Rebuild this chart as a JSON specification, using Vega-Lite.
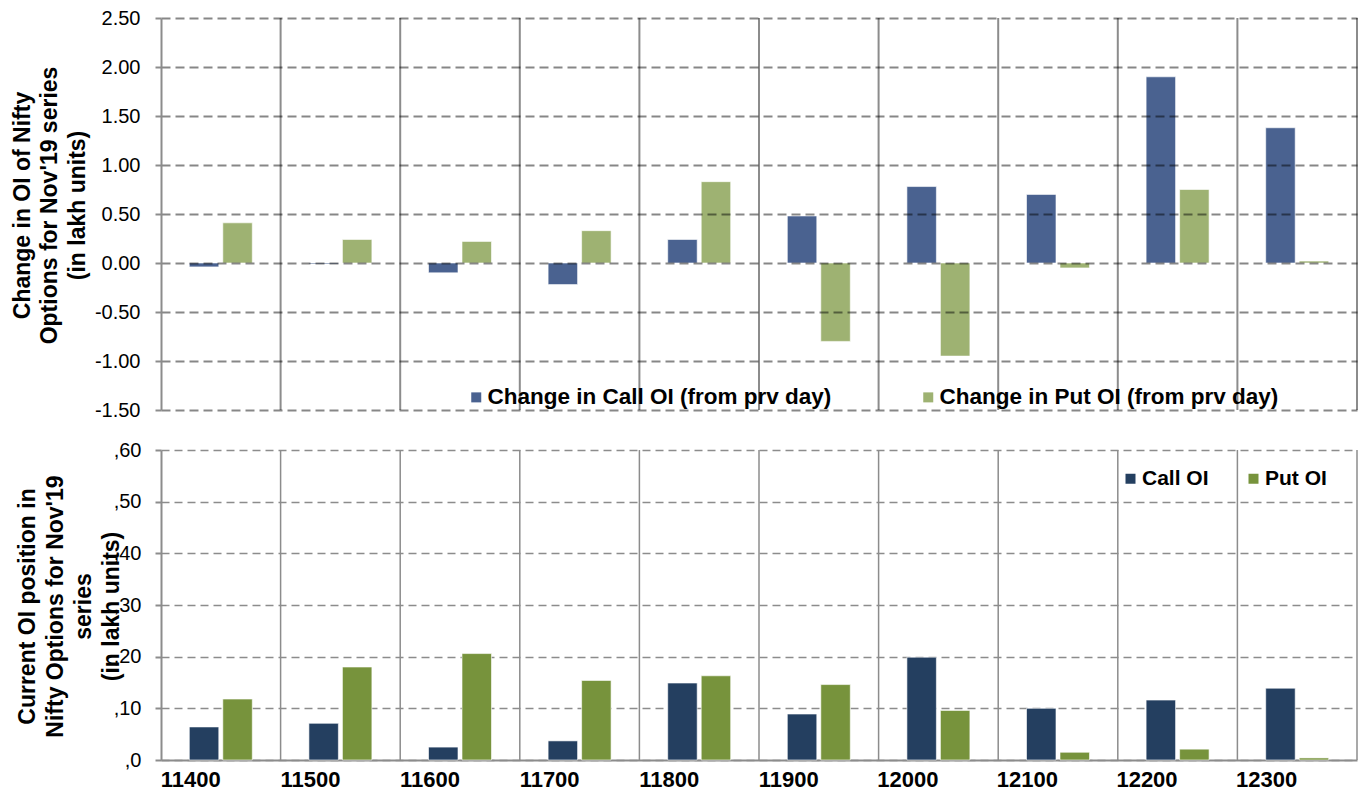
{
  "$schema": "https://vega.github.io/schema/vega-lite/v6.json",
  "background": "white",
  "padding": {"left": 10, "top": 8, "right": 0, "bottom": 0},
  "config": {"font": "Liberation Sans", "view": {"stroke": null}},
  "datasets": {
    "change": [
      {"strike": "11400", "series": "Change in Call OI (from prv day)", "value": -0.04},
      {"strike": "11400", "series": "Change in Put OI (from prv day)", "value": 0.41},
      {"strike": "11500", "series": "Change in Call OI (from prv day)", "value": -0.01},
      {"strike": "11500", "series": "Change in Put OI (from prv day)", "value": 0.24},
      {"strike": "11600", "series": "Change in Call OI (from prv day)", "value": -0.10},
      {"strike": "11600", "series": "Change in Put OI (from prv day)", "value": 0.22},
      {"strike": "11700", "series": "Change in Call OI (from prv day)", "value": -0.22},
      {"strike": "11700", "series": "Change in Put OI (from prv day)", "value": 0.33},
      {"strike": "11800", "series": "Change in Call OI (from prv day)", "value": 0.24},
      {"strike": "11800", "series": "Change in Put OI (from prv day)", "value": 0.83},
      {"strike": "11900", "series": "Change in Call OI (from prv day)", "value": 0.48},
      {"strike": "11900", "series": "Change in Put OI (from prv day)", "value": -0.80},
      {"strike": "12000", "series": "Change in Call OI (from prv day)", "value": 0.78},
      {"strike": "12000", "series": "Change in Put OI (from prv day)", "value": -0.95},
      {"strike": "12100", "series": "Change in Call OI (from prv day)", "value": 0.70},
      {"strike": "12100", "series": "Change in Put OI (from prv day)", "value": -0.05},
      {"strike": "12200", "series": "Change in Call OI (from prv day)", "value": 1.90},
      {"strike": "12200", "series": "Change in Put OI (from prv day)", "value": 0.75},
      {"strike": "12300", "series": "Change in Call OI (from prv day)", "value": 1.38},
      {"strike": "12300", "series": "Change in Put OI (from prv day)", "value": 0.02}
    ],
    "current": [
      {"strike": "11400", "series": "Call OI", "value": 6.4},
      {"strike": "11400", "series": "Put OI", "value": 11.8},
      {"strike": "11500", "series": "Call OI", "value": 7.1},
      {"strike": "11500", "series": "Put OI", "value": 18.0},
      {"strike": "11600", "series": "Call OI", "value": 2.5},
      {"strike": "11600", "series": "Put OI", "value": 20.6},
      {"strike": "11700", "series": "Call OI", "value": 3.7},
      {"strike": "11700", "series": "Put OI", "value": 15.4},
      {"strike": "11800", "series": "Call OI", "value": 14.9},
      {"strike": "11800", "series": "Put OI", "value": 16.3},
      {"strike": "11900", "series": "Call OI", "value": 8.9},
      {"strike": "11900", "series": "Put OI", "value": 14.6},
      {"strike": "12000", "series": "Call OI", "value": 19.9},
      {"strike": "12000", "series": "Put OI", "value": 9.6},
      {"strike": "12100", "series": "Call OI", "value": 10.0},
      {"strike": "12100", "series": "Put OI", "value": 1.5},
      {"strike": "12200", "series": "Call OI", "value": 11.6},
      {"strike": "12200", "series": "Put OI", "value": 2.1},
      {"strike": "12300", "series": "Call OI", "value": 13.9},
      {"strike": "12300", "series": "Put OI", "value": 0.4}
    ]
  },
  "columns": 1,
  "align": "none",
  "spacing": 20,
  "resolve": {"scale": {"color": "independent", "x": "independent", "xOffset": "independent", "y": "independent"}},
  "concat": [
    {
      "width": 1196,
      "height": 392,
      "data": {"name": "change"},
      "layer": [
        {
          "transform": [{"filter": "datum.series === 'Change in Call OI (from prv day)'"}],
          "mark": {"type": "rule", "color": "#8c8c8c", "strokeWidth": 2},
          "encoding": {
            "x": {"field": "strike", "type": "nominal", "bandPosition": 1, "axis": null, "scale": {"paddingInner": 0, "paddingOuter": 0}}
          }
        },
        {
          "mark": {"type": "bar", "stroke": "#ffffff", "strokeWidth": 1, "strokeOpacity": 0.6},
          "encoding": {
            "x": {"field": "strike", "type": "nominal", "axis": null, "scale": {"paddingInner": 0, "paddingOuter": 0}},
            "xOffset": {"field": "series", "type": "nominal", "sort": null, "scale": {"paddingInner": 0.12, "paddingOuter": 0.845}},
            "y": {
              "field": "value", "type": "quantitative",
              "scale": {"domain": [-1.5, 2.5], "nice": false, "zero": false},
              "axis": {
                "values": [-1.5, -1, -0.5, 0, 0.5, 1, 1.5, 2, 2.5],
                "labelExpr": "(datum.value < 0 ? '-' : '') + format(abs(datum.value), '.2f')",
                "title": ["Change in OI of Nifty", "Options for Nov'19 series", "(in lakh units)"],
                "titleFontSize": 23, "titleFontWeight": "bold", "titleColor": "#000000",
                "titleLineHeight": 27.5, "titleX": -127, "titleY": 187, "titleAngle": -90,
                "labelFontSize": 20, "labelColor": "#000000", "labelPadding": 15,
                "tickSize": 6, "tickColor": "#8c8c8c", "tickWidth": 2,
                "domainColor": "#8c8c8c", "domainWidth": 2,
                "grid": true, "gridColor": "#000000", "gridOpacity": 0.47, "gridDash": [9, 5], "gridWidth": 2,
                "zindex": 1
              }
            },
            "color": {
              "field": "series", "type": "nominal", "sort": null,
              "scale": {"domain": ["Change in Call OI (from prv day)", "Change in Put OI (from prv day)"], "range": ["#4a6290", "#9eb272"]},
              "legend": {
                "orient": "none", "legendX": 304, "legendY": 368, "direction": "horizontal", "title": null,
                "symbolType": "square", "symbolSize": 100, "symbolStrokeWidth": 0,
                "labelFontSize": 22.5, "labelFontWeight": "bold", "labelColor": "#000000",
                "labelOffset": 0, "columnPadding": 85, "labelLimit": 500, "padding": 0
              }
            }
          }
        }
      ]
    },
    {
      "width": 1196,
      "height": 310,
      "data": {"name": "current"},
      "layer": [
        {
          "transform": [{"filter": "datum.series === 'Call OI'"}],
          "mark": {"type": "rule", "color": "#8c8c8c", "strokeWidth": 1.5},
          "encoding": {
            "x": {"field": "strike", "type": "nominal", "bandPosition": 1, "scale": {"paddingInner": 0, "paddingOuter": 0}}
          }
        },
        {
          "mark": {"type": "bar", "stroke": "#ffffff", "strokeWidth": 1, "strokeOpacity": 0.6},
          "encoding": {
            "x": {
              "field": "strike", "type": "nominal", "scale": {"paddingInner": 0, "paddingOuter": 0},
              "axis": {
                "title": null, "labelFontSize": 22, "labelFontWeight": "bold", "labelColor": "#000000",
                "labelAngle": 0, "ticks": false, "labelPadding": 19,
                "domainColor": "#8c8c8c", "domainWidth": 2, "grid": false
              }
            },
            "xOffset": {"field": "series", "type": "nominal", "sort": null, "scale": {"paddingInner": 0.12, "paddingOuter": 0.845}},
            "y": {
              "field": "value", "type": "quantitative",
              "scale": {"domain": [0, 60], "nice": false},
              "axis": {
                "values": [0, 10, 20, 30, 40, 50, 60],
                "labelExpr": "',' + datum.value",
                "title": ["Current OI position in", "Nifty Options for Nov'19", "series", "(in lakh units)"],
                "titleFontSize": 23, "titleFontWeight": "bold", "titleColor": "#000000",
                "titleLineHeight": 28, "titleX": -122, "titleY": 156, "titleAngle": -90,
                "labelFontSize": 20, "labelColor": "#000000", "labelPadding": 14,
                "tickSize": 6, "tickColor": "#8c8c8c", "tickWidth": 2,
                "domainColor": "#8c8c8c", "domainWidth": 2,
                "grid": true, "gridColor": "#8c8c8c", "gridDash": [8, 5], "gridWidth": 1.5
              }
            },
            "color": {
              "field": "series", "type": "nominal", "sort": null,
              "scale": {"domain": ["Call OI", "Put OI"], "range": ["#243f60", "#77933c"]},
              "legend": {
                "orient": "none", "legendX": 959, "legendY": 18, "direction": "horizontal", "title": null,
                "symbolType": "square", "symbolSize": 100, "symbolStrokeWidth": 0,
                "labelFontSize": 21, "labelFontWeight": "bold", "labelColor": "#000000",
                "labelOffset": 1, "columnPadding": 34, "labelLimit": 500, "padding": 0
              }
            }
          }
        }
      ]
    }
  ]
}
